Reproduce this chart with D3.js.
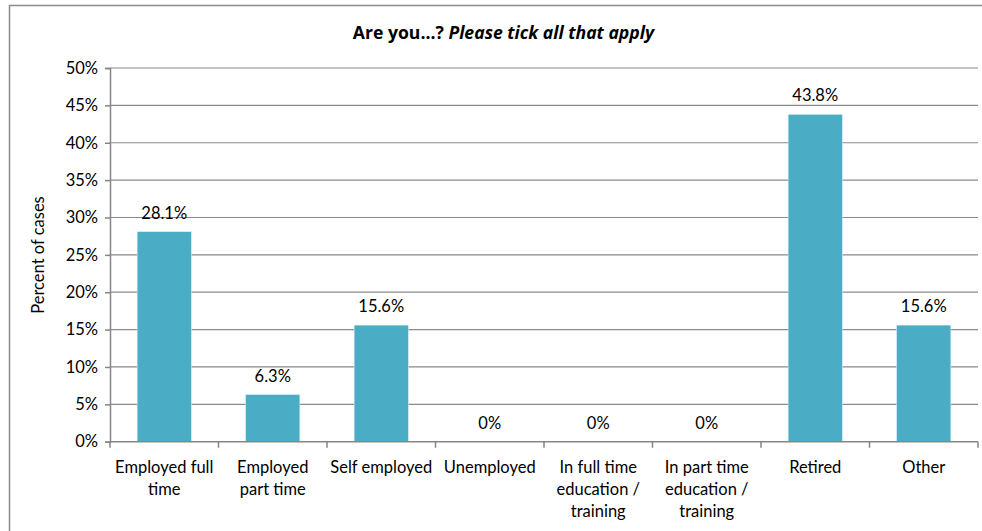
<!DOCTYPE html>
<html><head><meta charset="utf-8">
<script src="https://cdn.jsdelivr.net/npm/d3@7"></script>
<style>
body{margin:0;background:#fff;}
text{font-family:Lato,"Open Sans",sans-serif;fill:#000;}
</style></head>
<body><svg id="c" width="982" height="531"></svg>
<script>
const categories = ["Employed full\ntime","Employed\npart time","Self employed","Unemployed","In full time\neducation /\ntraining","In part time\neducation /\ntraining","Retired","Other"];
const values = [28.1, 6.3, 15.6, 0, 0, 0, 43.8, 15.6];
const valueLabels = ["28.1%","6.3%","15.6%","0%","0%","0%","43.8%","15.6%"];
const yTicks = [0,5,10,15,20,25,30,35,40,45,50];

const svg = d3.select("#c");
const pLeft = 110, pRight = 978, pTop = 68, pBottom = 441.7;
const fs = 16.5;

svg.append("rect").attr("x",9.5).attr("y",5.5).attr("width",990).attr("height",540)
  .attr("fill","none").attr("stroke","#8c8c8c").attr("stroke-width",1.5);

const x = d3.scaleBand().domain(categories).range([pLeft,pRight]).paddingInner(0.5).paddingOuter(0.25);
const y = d3.scaleLinear().domain([0,50]).range([pBottom,pTop]);

// gridlines
svg.append("g").selectAll("line").data(yTicks.filter(d=>d>0)).join("line")
  .attr("x1",pLeft).attr("x2",pRight).attr("y1",d=>y(d)).attr("y2",d=>y(d))
  .attr("stroke","#8a8a8a").attr("stroke-width",1.2);

// y axis
const ya = svg.append("g").attr("transform",`translate(${pLeft},0)`)
  .call(d3.axisLeft(y).tickValues(yTicks).tickFormat(d=>d+"%").tickSize(5).tickPadding(7));
ya.select(".domain").attr("stroke","#868686").attr("stroke-width",1.5);
ya.selectAll(".tick line").attr("stroke","#868686").attr("stroke-width",1.5);
ya.selectAll("text").attr("font-size",fs).attr("font-family","Lato").attr("fill","#000");

// bars
svg.append("g").selectAll("rect").data(values).join("rect")
  .attr("x",(d,i)=>x(categories[i])).attr("width",x.bandwidth())
  .attr("y",d=>y(d)).attr("height",d=>pBottom-y(d))
  .attr("fill","#4bacc6").attr("stroke","#d6eef5").attr("stroke-width",0.6);

// x axis
const xa = svg.append("g");
xa.append("line").attr("x1",pLeft).attr("x2",pRight).attr("y1",pBottom).attr("y2",pBottom)
  .attr("stroke","#868686").attr("stroke-width",1.5);
xa.selectAll("line.t").data(d3.range(categories.length+1)).join("line").attr("class","t")
  .attr("x1",i=>pLeft+i*(pRight-pLeft)/categories.length).attr("x2",i=>pLeft+i*(pRight-pLeft)/categories.length)
  .attr("y1",pBottom).attr("y2",pBottom+6).attr("stroke","#868686").attr("stroke-width",1.5);

// category labels
categories.forEach((c,i)=>{
  const t = svg.append("text").attr("text-anchor","middle").attr("font-size",fs)
    .attr("x",x(c)+x.bandwidth()/2).attr("y",473);
  c.split("\n").forEach((ln,j)=>{
    t.append("tspan").attr("x",x(c)+x.bandwidth()/2).attr("dy",j===0?0:22).text(ln);
  });
});

// value labels
svg.append("g").selectAll("text").data(values).join("text")
  .attr("text-anchor","middle").attr("font-size",fs)
  .attr("x",(d,i)=>x(categories[i])+x.bandwidth()/2)
  .attr("y",d=>y(d)-13)
  .text((d,i)=>valueLabels[i]);

// title
const title = svg.append("text").attr("x",503.5).attr("y",38.5).attr("text-anchor","middle")
  .attr("font-size",17.6).attr("font-weight","bold").style("font-family","'Open Sans'");
title.append("tspan").text("Are you...? ");
title.append("tspan").attr("font-style","italic").text("Please tick all that apply");

// y label
svg.append("text").attr("transform","translate(44,255) rotate(-90)").attr("text-anchor","middle")
  .attr("font-size",fs).text("Percent of cases");
</script></body></html>
